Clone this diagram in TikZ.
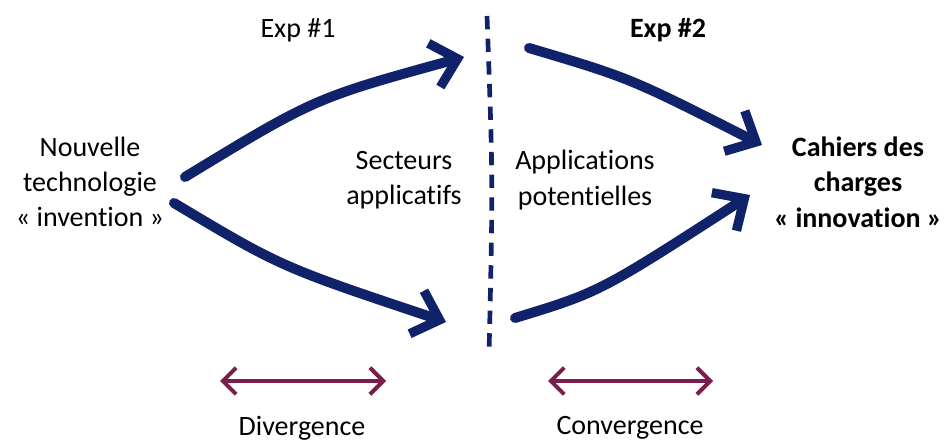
\documentclass[tikz,border=0pt]{standalone}
\usepackage{fontspec}
\setmainfont[Ligatures={NoCommon,NoContextual}, RawFeature={-calt}]{Carlito}
\usepackage{xcolor}
\usetikzlibrary{arrows.meta}
\definecolor{dnavy}{HTML}{10226A}
\definecolor{dwine}{HTML}{7A1E4C}
\tikzset{
  dflow/.style={dnavy, line width=7.5pt, line cap=round,
                -{Straight Barb[length=18pt, width=34pt, line width=7pt]}},
  dspan/.style={dwine, line width=3pt,
                {Straight Barb[length=10pt, width=20pt, line width=3pt]}-{Straight Barb[length=10pt, width=20pt, line width=3pt]}},
  dsep/.style={dnavy, line width=3.5pt, dash pattern=on 10pt off 7pt},
  dtxt/.style={align=center, font=\fontsize{21}{26.5}\selectfont, inner sep=0pt},
  dhead/.style={dtxt, font=\fontsize{21}{26.5}\selectfont\bfseries},
}

\begin{document}
\begin{tikzpicture}[x=0.75pt,y=-0.75pt]
  \useasboundingbox (0,0) rectangle (949,441);

  \node[dtxt]  (tech)   at (90,182)  {Nouvelle\\technologie\\« invention »};
  \node[dhead] (cahier) at (858,182) {Cahiers des\\charges\\« innovation »};
  \node[dtxt]  (sect)   at (404,180) {Secteurs\\applicatifs};
  \node[dtxt]  (appl)   at (585,180) {Applications\\potentielles};
  \node[dtxt]  (exp1)   at (298,30)  {Exp \#1};
  \node[dhead] (exp2)   at (668,30)  {Exp \#2};
  \node[dtxt]  (div)    at (302,428) {Divergence};
  \node[dtxt]  (conv)   at (630,428) {Convergence};

  % points d'attache des flèches
  \coordinate (s1) at (185,177);
  \coordinate (t1) at (464,57);
  \coordinate (s2) at (174,203);
  \coordinate (t2) at (446,322);
  \coordinate (s3) at (529,48);
  \coordinate (t3) at (762,145);
  \coordinate (s4) at (515,318);
  \coordinate (t4) at (750,195);

  \draw[dflow] (s1) .. controls (315,98) .. (t1);
  \draw[dflow] (s2) .. controls (281,267) .. (t2);
  \draw[dflow] (s3) .. controls (630,78) .. (t3);
  \draw[dflow] (s4) .. controls (600,292) .. (t4);

  % séparation
  \coordinate (sa) at (487,16);
  \coordinate (sb) at (489,355);
  \draw[dsep] (sa) .. controls (493,180) .. (sb);

  \coordinate (d1) at (220,381);
  \coordinate (d2) at (386,381);
  \coordinate (c1) at (548,381);
  \coordinate (c2) at (713,381);
  \draw[dspan] (d1) -- (d2);
  \draw[dspan] (c1) -- (c2);

\end{tikzpicture}
\end{document}
